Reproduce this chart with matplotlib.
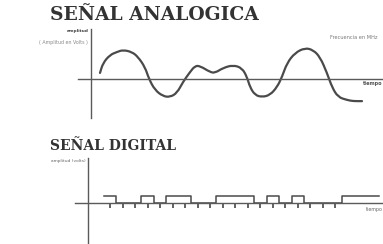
import numpy as np
import matplotlib.pyplot as plt
from matplotlib.path import Path
from matplotlib.patches import PathPatch

# analog signal, points (time, amplitude)
t_analog = [0.9, 1.2, 1.9, 2.6, 3.2, 4.1, 4.7, 5.4, 5.8, 6.4, 7.2, 7.9, 8.6, 9.2,
            9.9, 10.4, 10.9, 11.9, 12.4, 13.2, 14.2, 15.1, 15.6, 15.9, 16.4, 17.1,
            17.9, 18.6, 19.1, 19.6, 20.4, 21.4, 22.2, 22.9, 23.6, 24.1, 24.7, 25.6,
            26.2, 27.1]
y_analog = [0.21, 0.55, 0.83, 0.93, 1.0, 0.93, 0.76, 0.41, 0.0, -0.38, -0.59, -0.62,
            -0.48, -0.10, 0.24, 0.45, 0.45, 0.24, 0.21, 0.38, 0.48, 0.38, 0.07, -0.28,
            -0.55, -0.62, -0.55, -0.28, 0.07, 0.55, 0.90, 1.07, 1.00, 0.76, 0.21, -0.28,
            -0.62, -0.72, -0.76, -0.76]

# digital signal, one value per bit
bits = [1, 0, 0, 1, 0, 1, 1, 0, 0, 1, 1, 1, 0, 1, 0, 1, 0, 0, 0, 1, 1, 1]
n_ticks = 19

W, H = 383, 244
fig = plt.figure(figsize=(W / 100, H / 100), dpi=100)
fig.patch.set_facecolor('white')
grey = '#5a5a5a'

def box(l, t, r, b):
    return [l / W, 1 - b / H, (r - l) / W, (b - t) / H]

def strip(ax):
    ax.patch.set_alpha(0)
    for s in ('top', 'right'):
        ax.spines[s].set_visible(False)
    for s in ('left', 'bottom'):
        ax.spines[s].set_color(grey)
        ax.spines[s].set_linewidth(1.0)

def smooth_path(xs, ys):
    # quadratic curve through the midpoints, the read points act as controls
    pts = np.column_stack([xs, ys])
    mids = (pts[:-1] + pts[1:]) / 2
    verts = [pts[0], mids[0]]
    codes = [Path.MOVETO, Path.LINETO]
    for i in range(1, len(pts) - 1):
        verts += [pts[i], mids[i]]
        codes += [Path.CURVE3, Path.CURVE3]
    verts.append(pts[-1])
    codes.append(Path.LINETO)
    return Path(verts, codes)

# --- analog ---
ax1 = fig.add_axes(box(78, 29, 383, 118))
strip(ax1)
ax1.set_xlim(-1.3, 29.2)
ax1.set_ylim(-1.34, 1.72)
ax1.spines['left'].set_position(('data', 0))
ax1.spines['bottom'].set_position(('data', 0))
ax1.set_xticks([])
ax1.set_yticks([])
ax1.add_patch(PathPatch(smooth_path(t_analog, y_analog), fill=False,
                        edgecolor='#4a4a4a', lw=1.6, capstyle='round'))
ax1.text(-0.2, 1.65, 'amplitud', ha='right', va='center', fontsize=3.2,
         fontweight='bold', color='#444444')
ax1.text(-0.3, 1.27, '( Amplitud en Volts )', ha='right', va='center',
         fontsize=3.4, color='#888888')
ax1.text(28.6, 1.42, 'Frecuencia en MHz', ha='right', va='center',
         fontsize=3.6, color='#777777')
ax1.text(29.2, -0.17, 'tiempo', ha='right', va='center', fontsize=3.6,
         fontweight='bold', color='#555555')

# --- digital ---
ax2 = fig.add_axes(box(75, 158, 383, 244))
strip(ax2)
ax2.set_xlim(-2.3, 22.3)
ax2.set_ylim(-5.9, 6.4)
ax2.spines['left'].set_position(('data', -1.26))
ax2.spines['bottom'].set_position(('data', 0))
edges = np.arange(len(bits) + 1)
ax2.step(edges, bits + [bits[-1]], where='post', color='#4a4a4a', lw=1.1)
ax2.set_yticks([])
ax2.set_xticks(np.arange(n_ticks) + 0.5)
ax2.set_xticklabels([])
ax2.tick_params(axis='x', direction='out', length=3.5, width=1.3, color='#555555')
ax2.text(-1.45, 5.9, 'amplitud (volts)', ha='right', va='center', fontsize=3.2,
         color='#666666')
ax2.text(22.3, -0.9, 'tiempo', ha='right', va='center', fontsize=3.4,
         color='#666666')

# titles
fig.text(50 / W, 1 - 15 / H, 'SEÑAL ANALOGICA', ha='left', va='center',
         fontsize=13.5, fontweight='bold', family='DejaVu Serif', color='#333333')
fig.text(50 / W, 1 - 146 / H, 'SEÑAL DIGITAL', ha='left', va='center',
         fontsize=10, fontweight='bold', family='DejaVu Serif', color='#333333')

fig.savefig('out.png', dpi=100, facecolor='white')
